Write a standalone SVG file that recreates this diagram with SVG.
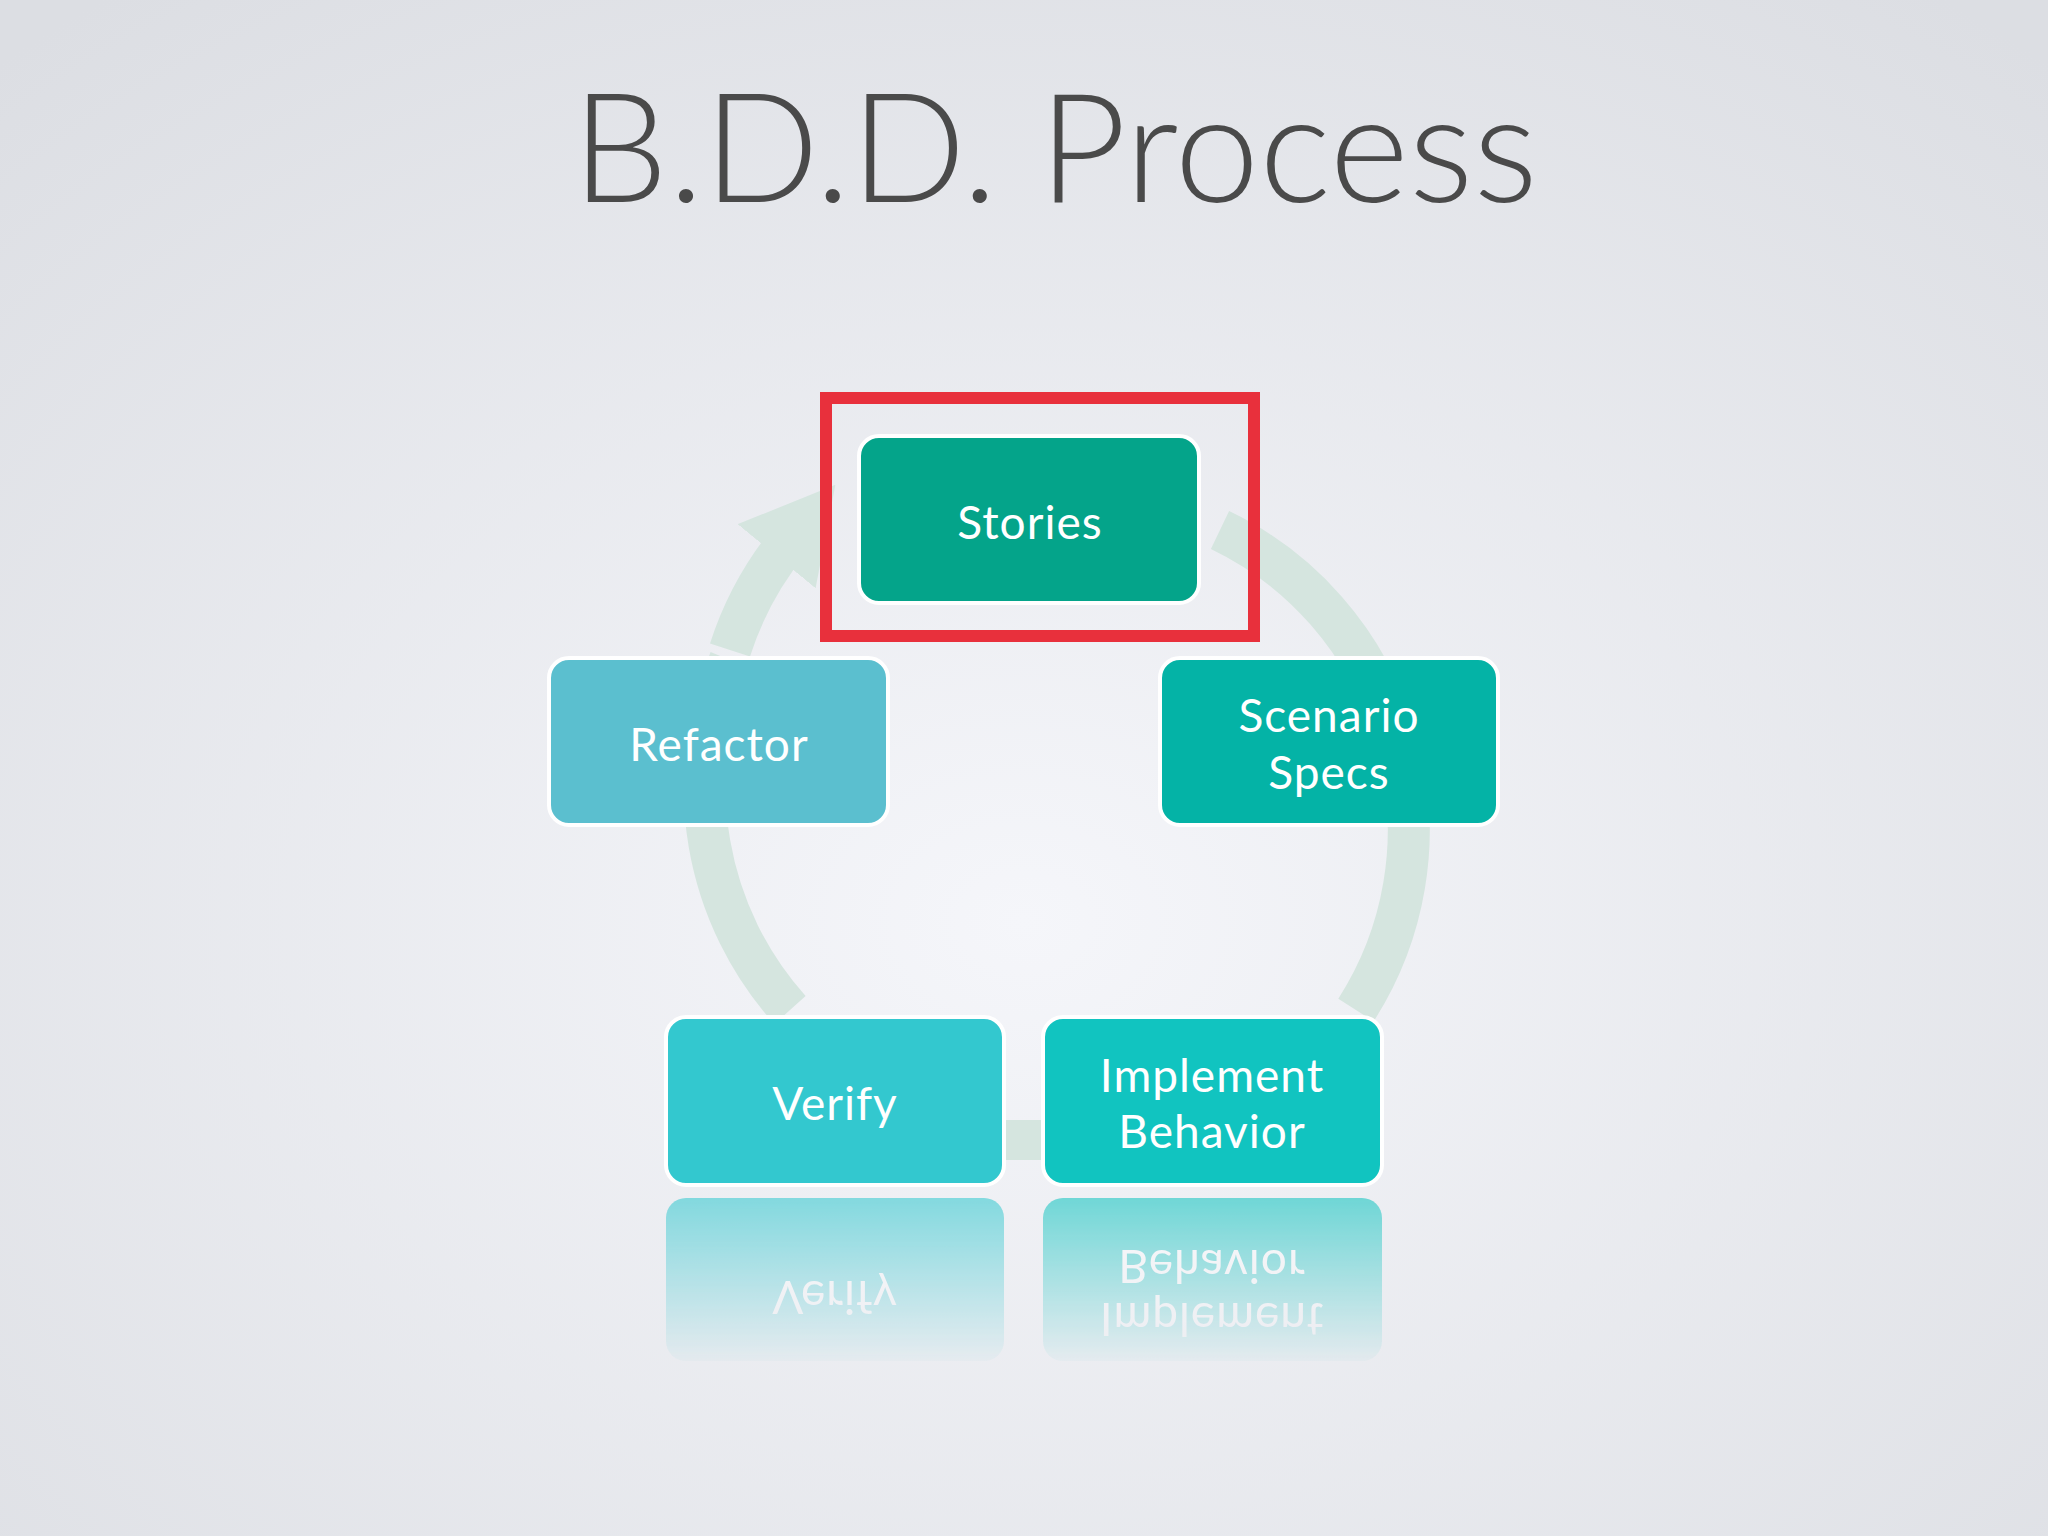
<svg xmlns="http://www.w3.org/2000/svg" width="2048" height="1536" viewBox="0 0 2048 1536">
<defs>
<radialGradient id="bg" cx="0.5" cy="0.6" r="0.75">
<stop offset="0" stop-color="#f5f6fa"/><stop offset="1" stop-color="#dcdee3"/>
</radialGradient>
<linearGradient id="fade" x1="0" y1="0" x2="0" y2="1">
<stop offset="0" stop-color="#fff" stop-opacity="0.6"/><stop offset="1" stop-color="#fff" stop-opacity="0"/>
</linearGradient>
<mask id="m" maskUnits="userSpaceOnUse" x="0" y="1190" width="2048" height="180">
<rect x="0" y="1190" width="2048" height="180" fill="url(#fade)"/>
</mask>
<marker id="ah" markerWidth="2.2" markerHeight="2.4" refX="0.5" refY="1.2" orient="auto"><path d="M0,0 L2.2,1.2 L0,2.4 z" fill="#d5e5df"/></marker>
<style>
.box{stroke:#fff;stroke-width:4}
.t{font-family:Lato,"Open Sans",sans-serif;font-size:46px;fill:#fff;text-anchor:middle;letter-spacing:1px}
</style>
</defs>
<rect width="2048" height="1536" fill="url(#bg)"/>
<text x="1055" y="202" font-family="Lato,'Open Sans',sans-serif" font-weight="300" font-size="152" fill="#4a4a4a" text-anchor="middle">B.D.D. Process</text>
<g id="connectors">
<path d="M1220,530 A333,333 0 0 1 1356,1010" fill="none" stroke="#d5e5df" stroke-width="42"/>
<path d="M790,1010 A333,333 0 0 1 730,660" fill="none" stroke="#d5e5df" stroke-width="42"/>
<path d="M730,650 A333,333 0 0 1 790,540" fill="none" stroke="#d5e5df" stroke-width="42" marker-end="url(#ah)"/>
<rect x="1004" y="1120" width="39" height="40" fill="#d5e5df"/>
</g>
<g id="reflection" mask="url(#m)">
<rect x="666" y="1198" width="338" height="163" rx="20" fill="#33c8cf"/>
<rect x="1043" y="1198" width="339" height="163" rx="20" fill="#11c4c0"/>
<g transform="translate(0,2398) scale(1,-1)">
<text class="t" x="835" y="1117">Verify</text>
<text class="t" x="1212" y="1095">Implement</text>
<text class="t" x="1212" y="1148">Behavior</text>
</g>
</g>
<g id="stories"><rect class="box" x="859" y="436" width="340" height="167" rx="20" fill="#04a48a"/><text class="t" x="1030" y="539">Stories</text></g>
<g id="refactor"><rect class="box" x="549" y="658" width="339" height="167" rx="20" fill="#5bbfcf"/><text class="t" x="719" y="761">Refactor</text></g>
<g id="scenario"><rect class="box" x="1160" y="658" width="338" height="167" rx="20" fill="#04b3a6"/><text class="t" x="1329" y="732">Scenario</text><text class="t" x="1329" y="789">Specs</text></g>
<g id="verify"><rect class="box" x="666" y="1017" width="338" height="168" rx="20" fill="#33c8cf"/><text class="t" x="835" y="1120">Verify</text></g>
<g id="implement"><rect class="box" x="1043" y="1017" width="339" height="168" rx="20" fill="#11c4c0"/><text class="t" x="1212" y="1092">Implement</text><text class="t" x="1212" y="1148">Behavior</text></g>
<g id="highlight"><rect x="826" y="398" width="428" height="238" fill="none" stroke="#e8303c" stroke-width="12"/></g>
</svg>
